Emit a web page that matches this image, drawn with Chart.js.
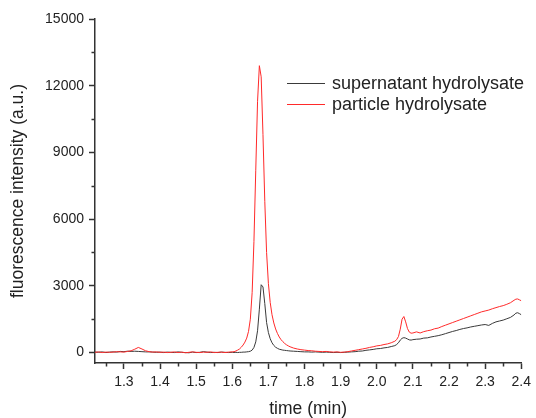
<!DOCTYPE html>
<html>
<head>
<meta charset="utf-8">
<script src="https://cdn.jsdelivr.net/npm/chart.js@4.4.1/dist/chart.umd.min.js"></script>
<style>
	html, body { margin: 0; padding: 0; background: #fff; }
	#wrap { width: 536px; height: 418px; position: relative; }
</style>
</head>
<body>
<div id="wrap"><canvas id="chart"></canvas></div>
<script>
(function () {
	'use strict';

	// --- Data ---

	const seriesNames = ['supernatant hydrolysate', 'particle hydrolysate'];

	const times = [
		1.22, 1.23, 1.24, 1.25, 1.26, 1.27, 1.28, 1.29, 1.30, 1.31, 1.32, 1.33, 1.34, 1.35, 1.36, 1.37, 1.38, 1.39, 1.40,
		1.41, 1.42, 1.43, 1.44, 1.45, 1.46, 1.47, 1.48, 1.49, 1.50, 1.51, 1.52, 1.53, 1.54, 1.55, 1.56, 1.57, 1.58, 1.59, 1.60,
		1.605, 1.61, 1.615, 1.62, 1.625, 1.63, 1.635, 1.64, 1.645, 1.65, 1.655, 1.66, 1.665, 1.67, 1.675, 1.68,
		1.685, 1.69, 1.695, 1.70, 1.705, 1.71, 1.715, 1.72, 1.725, 1.73, 1.735, 1.74, 1.745, 1.75, 1.755, 1.76,
		1.77, 1.78, 1.79, 1.80, 1.81, 1.82, 1.83, 1.84, 1.85, 1.86, 1.87, 1.88, 1.89, 1.90,
		1.91, 1.92, 1.93, 1.94, 1.95, 1.96, 1.97, 1.98, 1.99, 2.00, 2.01, 2.02, 2.03, 2.04, 2.05,
		2.055, 2.06, 2.065, 2.07, 2.075, 2.08, 2.085, 2.09, 2.095, 2.10,
		2.11, 2.12, 2.13, 2.14, 2.15, 2.16, 2.17, 2.18, 2.19, 2.20, 2.21, 2.22, 2.23, 2.24, 2.25,
		2.26, 2.27, 2.28, 2.29, 2.30, 2.31, 2.32, 2.33, 2.34, 2.35, 2.36, 2.37, 2.38, 2.385, 2.39, 2.395, 2.40
	];

	const supernatant = [
		20, 10, 30, 0, 20, 30, 20, 50, 40, 60, 50, 60, 50, 40, 30, 30, 20, 10, 20,
		0, 20, 10, 0, 30, 10, 0, -10, 20, 0, 10, 40, 20, 0, 10, 0, 20, 10, 0, 10,
		0, 10, 0, 10, 10, 20, 20, 30, 40, 60, 110, 230, 480, 980, 1950, 3050,
		2950, 2200, 1350, 900, 620, 440, 320, 240, 190, 150, 130, 110, 100, 90, 80, 70,
		60, 50, 40, 30, 30, 20, 30, 20, 10, 20, 10, 0, 10, 0,
		10, 20, 30, 40, 60, 70, 100, 120, 140, 170, 180, 210, 230, 270, 310,
		360, 440, 560, 640, 670, 650, 610, 570, 560, 580,
		600, 610, 650, 660, 700, 730, 760, 800, 850, 900, 950, 990, 1040, 1080, 1110,
		1150, 1180, 1210, 1240, 1260, 1220, 1310, 1380, 1420, 1460, 1520, 1580, 1690, 1770, 1790, 1750, 1700
	];

	const particle = [
		10, 30, 0, 20, 10, 20, 40, 30, 20, 50, 80, 150, 230, 160, 80, 40, 20, 30, 10,
		20, 0, 10, 30, 0, 20, -10, 10, 30, 10, 0, 20, 10, 30, 0, 10, 20, 0, 20, 30,
		40, 70, 110, 160, 240, 340, 470, 650, 950, 1500, 2700, 5000, 8200, 11300, 12900, 12400,
		9800, 6800, 4500, 3100, 2250, 1700, 1330, 1060, 860, 700, 580, 490, 410, 350, 300, 260,
		200, 160, 130, 110, 90, 80, 60, 50, 40, 50, 30, 20, 30, 10,
		20, 40, 70, 100, 130, 160, 190, 230, 260, 300, 320, 360, 390, 440, 510,
		580, 720, 1050, 1500, 1620, 1380, 1080, 920, 870, 880,
		930, 880, 940, 980, 1010, 1070, 1100, 1170, 1230, 1290, 1350, 1410, 1470, 1530, 1590,
		1650, 1710, 1770, 1830, 1870, 1910, 1970, 2020, 2070, 2110, 2170, 2240, 2350, 2400, 2410, 2370, 2330
	];

	const xMajorTicks = [1.3, 1.4, 1.5, 1.6, 1.7, 1.8, 1.9, 2.0, 2.1, 2.2, 2.3, 2.4];
	const xMinorTicks = [1.25, 1.35, 1.45, 1.55, 1.65, 1.75, 1.85, 1.95, 2.05, 2.15, 2.25, 2.35];
	const yMajorTicks = [0, 3000, 6000, 9000, 12000, 15000];
	const yMinorTicks = [1500, 4500, 7500, 10500, 13500];

	const X_MIN = 1.22, X_MAX = 2.4;
	const Y_MIN = -470, Y_MAX = 15000;

	// --- Styling ---

	const FONT = "'Liberation Sans', Arial, sans-serif";
	const AXIS_COLOR = '#333';
	const TEXT_COLOR = '#222';
	const LINE_COLORS = ['#3a3a3a', '#ff2a2a'];

	function toPoints(values) {
		return values.map((v, i) => ({ x: times[i], y: v }));
	}

	// short minor ticks, drawn through the scales
	const minorTicksPlugin = {
		id: 'minorTicks',
		afterDraw(chart) {
			const { ctx, scales } = chart;
			const xs = scales.x, ys = scales.y;
			ctx.save();
			ctx.strokeStyle = AXIS_COLOR;
			ctx.lineWidth = 1.5;
			ctx.beginPath();
			xMinorTicks.forEach(v => {
				const px = Math.round(xs.getPixelForValue(v)) + 0.5;
				ctx.moveTo(px, xs.top);
				ctx.lineTo(px, xs.top + 3.5);
			});
			yMinorTicks.forEach(v => {
				const py = Math.round(ys.getPixelForValue(v)) + 0.5;
				ctx.moveTo(ys.right, py);
				ctx.lineTo(ys.right - 3.5, py);
			});
			ctx.stroke();
			ctx.restore();
		},
	};

	// legend inside the plot area, as in the original
	const insideLegendPlugin = {
		id: 'insideLegend',
		afterDraw(chart) {
			const { ctx } = chart;
			const x0 = 287, x1 = 325, textX = 332;
			const rows = [83, 104];
			ctx.save();
			ctx.font = '18px ' + FONT;
			ctx.textBaseline = 'middle';
			ctx.textAlign = 'left';
			seriesNames.forEach((name, i) => {
				ctx.strokeStyle = LINE_COLORS[i];
				ctx.lineWidth = 1.2;
				ctx.beginPath();
				ctx.moveTo(x0, rows[i] + 0.5);
				ctx.lineTo(x1, rows[i] + 0.5);
				ctx.stroke();
				ctx.fillStyle = TEXT_COLOR;
				ctx.fillText(name, textX, rows[i] + 1);
			});
			ctx.restore();
		},
	};

	function createChart() {
		const canvas = document.getElementById('chart');

		return new Chart(canvas, {
			type: 'line',
			data: {
				datasets: [
					{
						label: seriesNames[0],
						data: toPoints(supernatant),
						borderColor: LINE_COLORS[0],
						borderWidth: 1,
						pointRadius: 0,
						tension: 0,
						order: 1,
					},
					{
						label: seriesNames[1],
						data: toPoints(particle),
						borderColor: LINE_COLORS[1],
						borderWidth: 1,
						pointRadius: 0,
						tension: 0,
						order: 0,
					},
				],
			},
			options: {
				responsive: true,
				maintainAspectRatio: false,
				animation: false,
				layout: { padding: { top: 19, right: 12, left: 0, bottom: 0 } },
				plugins: {
					legend: { display: false },
					tooltip: { enabled: false },
				},
				scales: {
					x: {
						type: 'linear',
						min: X_MIN,
						max: X_MAX,
						afterBuildTicks: scale => {
							scale.ticks = xMajorTicks.map(v => ({ value: v }));
						},
						afterFit: scale => { scale.height = 55; },
						border: { display: true, color: AXIS_COLOR, width: 1.5 },
						grid: {
							drawOnChartArea: false,
							drawTicks: true,
							tickLength: 6,
							tickWidth: 1.5,
							tickColor: AXIS_COLOR,
						},
						ticks: {
							color: TEXT_COLOR,
							font: { family: FONT, size: 14 },
							padding: 5,
							maxRotation: 0,
							autoSkip: false,
							callback: value => Number(value).toFixed(1),
						},
						title: {
							display: true,
							text: 'time (min)',
							color: TEXT_COLOR,
							font: { family: FONT, size: 17.5, lineHeight: 1 },
							padding: { top: 0, bottom: 0 },
						},
					},
					y: {
						type: 'linear',
						min: Y_MIN,
						max: Y_MAX,
						afterBuildTicks: scale => {
							scale.ticks = yMajorTicks.map(v => ({ value: v }));
						},
						afterFit: scale => { scale.width = 95; },
						border: { display: true, color: AXIS_COLOR, width: 1.5 },
						grid: {
							drawOnChartArea: false,
							drawTicks: true,
							tickLength: 6,
							tickWidth: 1.5,
							tickColor: AXIS_COLOR,
						},
						ticks: {
							color: TEXT_COLOR,
							font: { family: FONT, size: 14 },
							padding: 5,
							autoSkip: false,
							callback: value => String(value),
						},
						title: {
							display: true,
							text: 'fluorescence intensity (a.u.)',
							color: TEXT_COLOR,
							font: { family: FONT, size: 17.5, lineHeight: 1 },
							padding: { top: 9, bottom: 0 },
						},
					},
				},
			},
			plugins: [minorTicksPlugin, insideLegendPlugin],
		});
	}

	createChart();
})();
</script>
</body>
</html>
